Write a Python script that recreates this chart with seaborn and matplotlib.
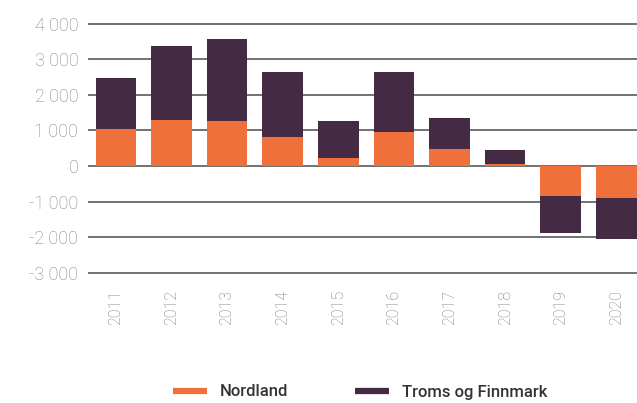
import matplotlib
matplotlib.use("Agg")
import matplotlib.pyplot as plt
from matplotlib.lines import Line2D
import numpy as np
import pandas as pd
import seaborn as sns

# Data
years = ["2011", "2012", "2013", "2014", "2015", "2016", "2017", "2018", "2019", "2020"]
nordland = [1030, 1300, 1260, 810, 220, 950, 470, 50, -845, -910]
troms_finnmark = [1440, 2070, 2310, 1830, 1040, 1690, 870, 390, -1045, -1150]
y_ticks = [-3000, -2000, -1000, 0, 1000, 2000, 3000, 4000]

orange = "#F0703C"
purple = "#442B43"
grey_text = "#858585"

df = pd.DataFrame({
    "year": years,
    "Nordland": nordland,
    "Troms og Finnmark": troms_finnmark,
})
df["total"] = df["Nordland"] + df["Troms og Finnmark"]

sns.set_theme(style="white")
plt.rcParams["font.family"] = ["Roboto", "DejaVu Sans"]

fig = plt.figure(figsize=(6.37, 4.03), dpi=100)
ax = fig.add_axes([88 / 637, 0.3144, 1 - 88 / 637, 0.6357])

# stacked look: draw the total first, then Nordland over it from zero
sns.barplot(data=df, x="year", y="total", color=purple, width=0.73,
            saturation=1, edgecolor="none", ax=ax, zorder=3)
sns.barplot(data=df, x="year", y="Nordland", color=orange, width=0.73,
            saturation=1, edgecolor="none", ax=ax, zorder=4)

ax.set_xlim(-0.5, 9.37)
ax.set_ylim(-3100, 4100)
ax.set_yticks(y_ticks)
ax.set_yticklabels([f"{v:,}".replace(",", " ") for v in y_ticks],
                   color=grey_text, fontsize=13, fontweight="light")
ax.set_xticks(range(len(years)))
ax.set_xticklabels(years, rotation=90, color="#7a7a7a", fontsize=11.5,
                   fontweight="light", va="top")
ax.tick_params(axis="y", length=0, pad=7)
ax.tick_params(axis="x", length=0, pad=10)
ax.set_xlabel("")
ax.set_ylabel("")

for v in y_ticks:
    ax.axhline(v, color="#4a4a4a", lw=1.1, zorder=1)

for s in ax.spines.values():
    s.set_visible(False)

handles = [
    Line2D([0], [0], color=orange, lw=4.5, solid_capstyle="butt"),
    Line2D([0], [0], color=purple, lw=4.5, solid_capstyle="butt"),
]
fig.legend(handles, ["Nordland", "Troms og Finnmark"], loc="center",
           bbox_to_anchor=(360 / 637, 11 / 403), ncol=2, frameon=False,
           handlelength=2.05, handletextpad=0.78, columnspacing=4.0,
           prop={"family": ["Roboto", "DejaVu Sans"], "size": 12, "weight": "medium"},
           labelcolor="#333333")

fig.savefig("out.png", dpi=100)
